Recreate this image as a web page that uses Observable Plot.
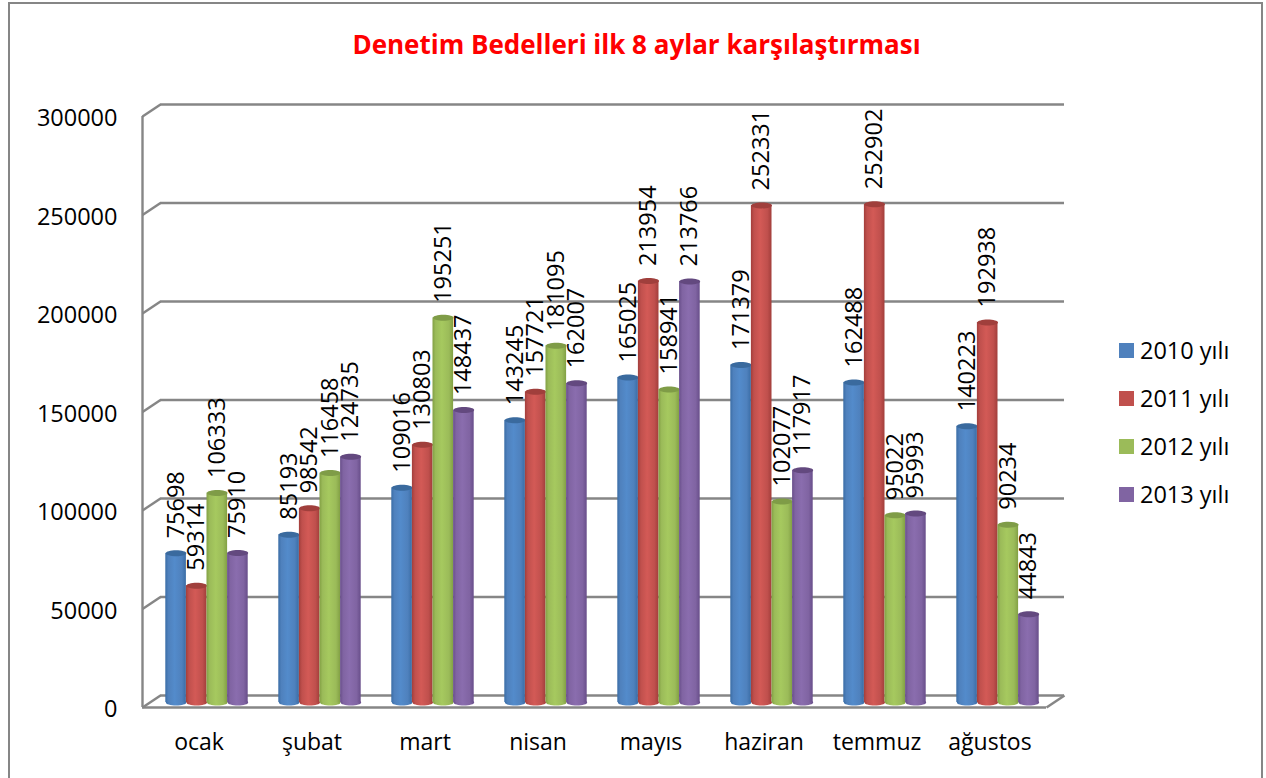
<!DOCTYPE html>
<html><head><meta charset="utf-8">
<script src="https://cdn.jsdelivr.net/npm/d3@7"></script>
<script src="https://cdn.jsdelivr.net/npm/@observablehq/plot@0.6"></script>
<style>
html,body{margin:0;padding:0;background:#fff;overflow:hidden;width:1266px;height:778px}
#frame{position:absolute;left:8px;top:2px;width:1255px;height:800px;border:2px solid #868686;box-sizing:border-box;pointer-events:none}
#title{height:80px;box-sizing:border-box;padding-top:26px;text-align:center;font:700 26px/36px "Open Sans",sans-serif;color:#ff0000;margin-left:7px}
#legend{position:absolute;left:1119px;top:326px;font:23.5px/48px "Open Sans",sans-serif;color:#000}
#legend div{display:flex;align-items:center;height:48px}
#legend i{display:block;width:15px;height:15px;margin-right:6px}
#chart svg{display:block}
</style></head><body>
<div id="frame"></div>
<div id="title">Denetim Bedelleri ilk 8 aylar karşılaştırması</div>
<div id="chart"></div>
<div id="legend"></div>
<script>
const months=["ocak","şubat","mart","nisan","mayıs","haziran","temmuz","ağustos"];
const seriesNames=["2010 yılı","2011 yılı","2012 yılı","2013 yılı"];
const v2010=[75698,85193,109016,143245,165025,171379,162488,140223];
const v2011=[59314,98542,130803,157721,213954,252331,252902,192938];
const v2012=[106333,116458,195251,181095,158941,102077,95022,90234];
const v2013=[75910,124735,148437,162007,213766,117917,95993,44843];
const yTicks=[0,50000,100000,150000,200000,250000,300000];
const colors=["#4F81BD","#C0504D","#9BBB59","#8064A2"];
const edges=["#3a6da6","#a23e3b","#82a044","#684e8a"];
const tops=["#3a6a9e","#a03f3c","#7f9c47","#63497f"];
const lights=["#538bcb","#d35a56","#a6c95f","#8a6dae"];
const allValues=[v2010,v2011,v2012,v2013];

const barW=0.1823, depthX=18/113, depthY=6091, cylDx=8, cylDy=-5;
const cx=(m,s)=>m+0.5+(s-1.5)*barW;
const ellipse={draw(c){const a=10.3,b=3,k=0.5523;
  c.moveTo(-a,0);
  c.bezierCurveTo(-a,-b*k,-a*k,-b,0,-b);
  c.bezierCurveTo(a*k,-b,a,-b*k,a,0);
  c.bezierCurveTo(a,b*k,a*k,b,0,b);
  c.bezierCurveTo(-a*k,b,-a,b*k,-a,0);
  c.closePath();}};

const grid={stroke:"#868686",strokeWidth:2.4};
const marks=[
  Plot.ruleY(yTicks,{x1:depthX,x2:8+depthX,dy:-12,...grid}),
  Plot.link(yTicks,{x1:0,x2:depthX,y1:d=>d,y2:d=>d+depthY,...grid}),
  Plot.link([0],{x1:8,x2:8+depthX,y1:d=>d,y2:d=>d+depthY,...grid}),
  Plot.ruleX([0],{y1:0,y2:300000,...grid}),
  Plot.ruleY([0],{x1:0,x2:8,...grid})
];
allValues.forEach((vals,s)=>{
  const rows=vals.map((v,m)=>({m,v}));
  marks.push(
    Plot.dot(rows,{x:d=>cx(d.m,s),y:()=>0,symbol:ellipse,fill:`url(#cyl${s})`,dx:cylDx,dy:cylDy}),
    Plot.rectY(rows,{x1:d=>cx(d.m,s)-barW/2,x2:d=>cx(d.m,s)+barW/2,y1:()=>0,y2:d=>d.v,fill:`url(#cyl${s})`,dx:cylDx,dy:cylDy}),
    Plot.dot(rows,{x:d=>cx(d.m,s),y:d=>d.v,symbol:ellipse,fill:tops[s],dx:cylDx,dy:cylDy})
  );
});
allValues.forEach((vals,s)=>{
  marks.push(Plot.text(vals.map((v,m)=>({m,v})),{x:d=>cx(d.m,s),y:d=>d.v,text:d=>String(d.v),rotate:-90,textAnchor:"start",lineAnchor:"middle",dx:cylDx,dy:-20,fontSize:23.5,fill:"#000"}));
});
marks.push(
  Plot.axisY(yTicks,{anchor:"left",tickSize:0,tickPadding:25,tickFormat:"d",label:null,fontSize:23.5,dy:2,stroke:"none",fill:"#000"}),
  Plot.axisX(months.map((_,i)=>i+0.5),{anchor:"bottom",tickSize:0,tickPadding:26,tickFormat:i=>months[Math.floor(i)],label:null,fontSize:23,stroke:"none",fill:"#000"})
);

const plot=Plot.plot({
  width:1266,height:698,marginLeft:142,marginRight:220,marginTop:36,marginBottom:71,
  style:{fontFamily:"'Open Sans',sans-serif",background:"transparent"},
  x:{domain:[0,8],axis:null},
  y:{domain:[0,300000],axis:null},
  marks
});
const defs=d3.select(plot).insert("defs",":first-child");
colors.forEach((c,s)=>{
  const g=defs.append("linearGradient").attr("id",`cyl${s}`).attr("x1",0).attr("x2",1).attr("y1",0).attr("y2",0);
  [[0,edges[s]],[0.15,c],[0.45,lights[s]],[0.8,c],[1,edges[s]]].forEach(([o,col])=>g.append("stop").attr("offset",o).attr("stop-color",col));
});
document.getElementById("chart").append(plot);
const lg=document.getElementById("legend");
seriesNames.forEach((n,s)=>{
  const r=document.createElement("div");
  const sw=document.createElement("i");sw.style.background=colors[s];
  const t=document.createElement("span");t.textContent=n;
  r.append(sw,t);lg.append(r);
});
</script></body></html>
